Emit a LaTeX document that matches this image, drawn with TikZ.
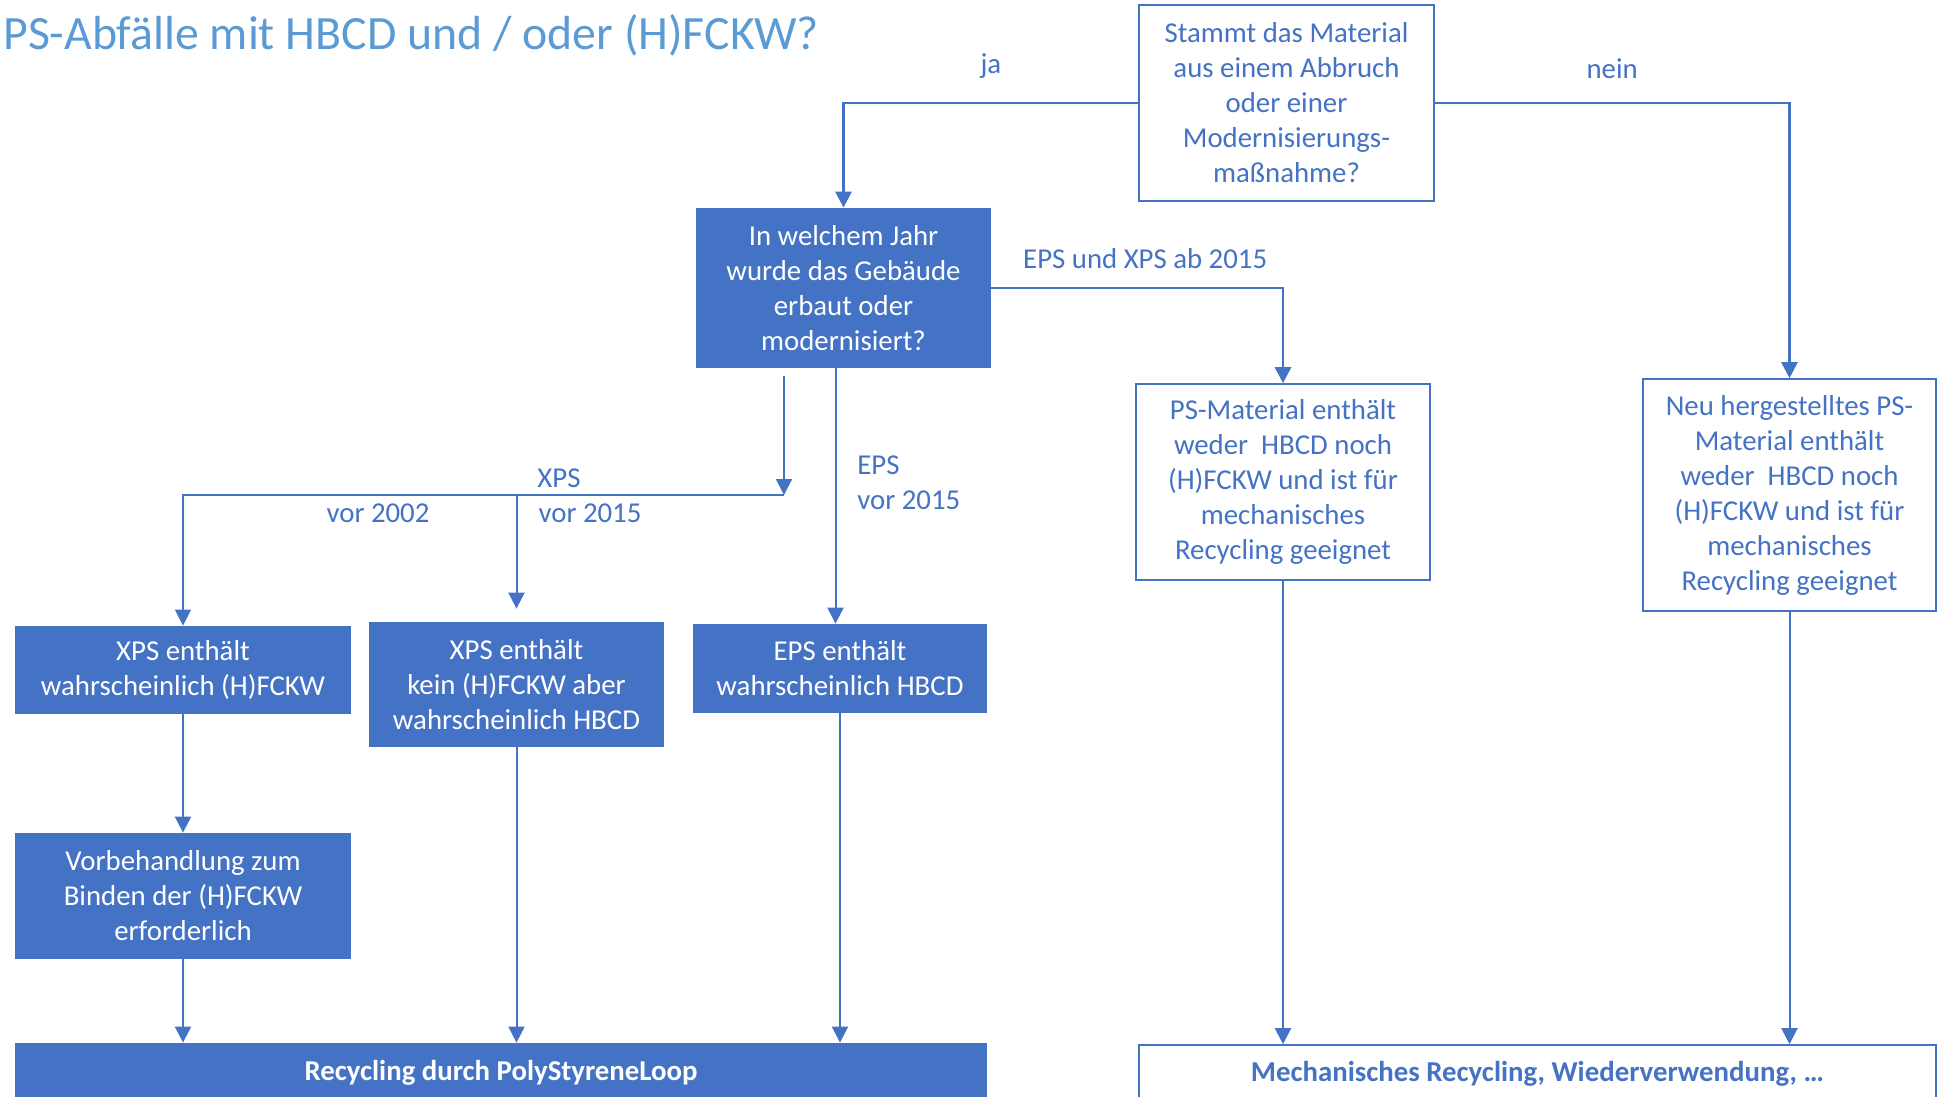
\documentclass[tikz,border=0pt]{standalone}
\usepackage{fontspec}
\setmainfont{Carlito}
\usetikzlibrary{
arrows.meta,
calc,
positioning
}
\definecolor{boxblue}{HTML}{4472C4}
\definecolor{titleblue}{HTML}{5B9BD5}
\tikzset{>={Triangle[length=8pt,width=8pt]}}

\begin{document}
\begin{tikzpicture}[x=0.5pt, y=-0.5pt, font=\fontsize{14.4}{17.5}\selectfont,
		fullbox/.style={fill=boxblue, text=white, align=center, inner sep=0pt},
		openbox/.style={draw=boxblue, line width=0.8pt, fill=white, text=boxblue, align=center, inner sep=0pt},
		lbl/.style={text=boxblue, inner sep=0pt},
		conn/.style={->, draw=boxblue, line width=1pt},
		mainconn/.style={conn, line width=1.4pt}]
		\useasboundingbox (0,0) rectangle (1950,1097);
		\clip (0,0) rectangle (1950,1097);
		
		\node[anchor=base west, text=titleblue, inner sep=0pt, font=\fontsize{23.9}{28}\selectfont] (title) at (3,50) {PS-Abfälle mit HBCD und / oder (H)FCKW?};
		
		\node[openbox, minimum width=147.5pt, minimum height=98pt] (stammt) at (1286.5,103) {Stammt das Material\\aus einem Abbruch\\oder einer\\Modernisierungs-\\maßnahme?};
		\node[fullbox, minimum width=147.5pt, minimum height=80pt] (jahr) at (843.5,288) {In welchem Jahr\\wurde das Gebäude\\erbaut oder\\modernisiert?};
		\node[openbox, minimum width=147pt, minimum height=98pt] (psmat) at (1283,482) {PS-Material enthält\\weder~ HBCD noch\\(H)FCKW und ist für\\mechanisches\\Recycling geeignet};
		\node[openbox, minimum width=146.5pt, minimum height=116pt] (neu) at (1789.5,495) {Neu hergestelltes PS-\\Material enthält\\weder~ HBCD noch\\(H)FCKW und ist für\\mechanisches\\Recycling geeignet};
		
		\node[fullbox, minimum width=168pt, minimum height=44pt] (xpsfckw) at (183,670) {XPS enthält\\wahrscheinlich (H)FCKW};
		\node[fullbox, minimum width=147.5pt, minimum height=62.5pt] (xpshbcd) at (516.5,684.5) {XPS enthält\\kein (H)FCKW aber\\wahrscheinlich HBCD};
		\node[fullbox, minimum width=147pt, minimum height=44.5pt] (epshbcd) at (840,668.5) {EPS enthält\\wahrscheinlich HBCD};
		\node[fullbox, minimum width=168pt, minimum height=63pt] (vorbeh) at (183,896) {Vorbehandlung zum\\Binden der (H)FCKW\\erforderlich};
		
		\node[fullbox, minimum width=486pt, minimum height=29.5pt, font=\fontsize{14.4}{17.5}\selectfont\bfseries] (loop) at (501,1072.5) {Recycling durch PolyStyreneLoop};
		\node[openbox, minimum width=398.5pt, minimum height=28.5pt, font=\fontsize{14.4}{17.5}\selectfont\bfseries] (mech) at (1537.5,1073.5) {Mechanisches Recycling, Wiederverwendung, \dots};
		
		% ja / nein
		\draw[mainconn] (stammt.west) -| node[lbl, pos=0.25, anchor=base, yshift=14.5pt] (ja) {ja} (jahr.north);
		\draw[mainconn] (stammt.east) -| node[lbl, pos=0.25, anchor=base, yshift=12pt] (nein) {nein} (neu.north);
		\draw[mainconn] (jahr.east) -| node[lbl, pos=0.25, anchor=base, xshift=4pt, yshift=10pt] (ab2015) {EPS und XPS ab 2015} (psmat.north);
		
		% XPS
		\coordinate (split) at (784,495);
		\draw[conn] ([yshift=-4pt]jahr.south -| split) -- (split);
		\draw[conn, line width=0.7pt] (split) -| (xpsfckw.north);
		\draw[conn] (xpshbcd.north |- split) -- ([yshift=6.5pt]xpshbcd.north);
		\node[lbl, anchor=base] (xpslbl) at (559,487) {XPS};
		\node[lbl, anchor=base] (vor2002) at (378,522) {vor 2002};
		\node[lbl, anchor=base] (vor2015) at (590,522) {vor 2015};
		
		% EPS
		\draw[conn] ([xshift=-4pt]jahr.south) -- ([xshift=-4pt]jahr.south |- epshbcd.north);
		\node[lbl, anchor=north west, align=left] (epslbl) at (857,455) {EPS\\vor 2015};
		
		% zum Recycling
		\draw[conn] (xpsfckw) -- (vorbeh);
		\draw[conn] (vorbeh.south) -- (vorbeh.south |- loop.north);
		\draw[conn] (xpshbcd.south) -- (xpshbcd.south |- loop.north);
		\draw[conn] (epshbcd.south) -- (epshbcd.south |- loop.north);
		\draw[conn] (psmat.south) -- (psmat.south |- mech.north);
		\draw[conn] (neu.south) -- (neu.south |- mech.north);
	\end{tikzpicture}
\end{document}
